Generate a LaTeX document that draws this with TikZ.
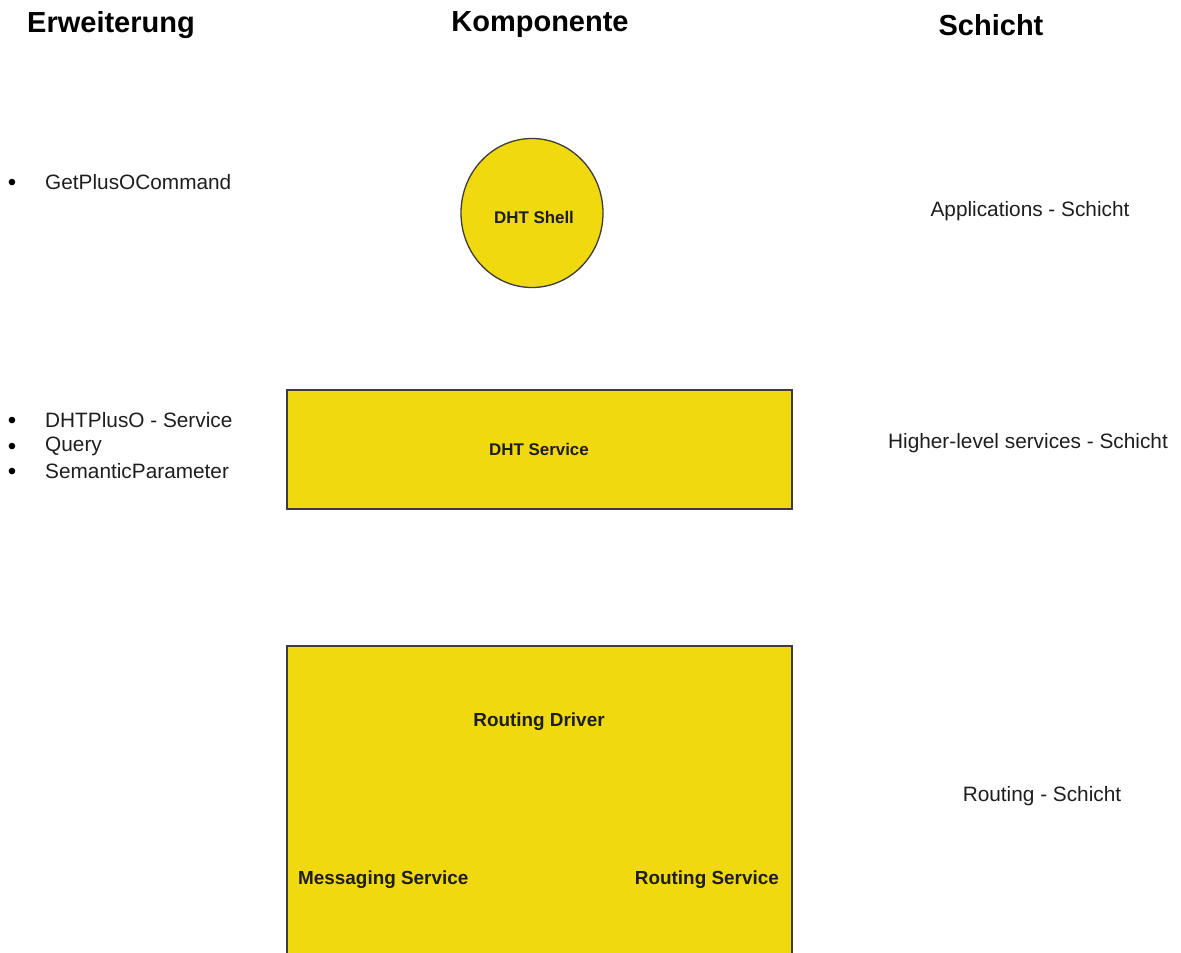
\documentclass[tikz,border=0pt]{standalone}
\usepackage{fontspec}
\setmainfont{Liberation Sans}
\usetikzlibrary{shapes.geometric}
\definecolor{compfill}{RGB}{240,217,14}
\definecolor{compline}{RGB}{60,60,60}
\definecolor{bodytext}{RGB}{30,30,30}
\tikzset{
  heading/.style={font=\fontsize{29}{33}\selectfont\bfseries, text=black, inner sep=0pt},
  plain/.style={font=\fontsize{20.8}{24}\selectfont, text=bodytext, inner sep=0pt},
  bulletmark/.style={font=\fontsize{24}{28}\selectfont, text=black, inner sep=0pt},
  complabel/.style={font=\fontsize{16.9}{20}\selectfont\bfseries, text=bodytext, inner sep=0pt},
  boxlabel/.style={font=\fontsize{18.9}{22}\selectfont\bfseries, text=bodytext, inner sep=0pt},
  comp/.style={fill=compfill, draw=compline, line width=1.3pt},
}
\begin{document}
\begin{tikzpicture}[x=1pt, y=-1pt]
  \useasboundingbox (0,0) rectangle (1181,953);
  \clip (0,0) rectangle (1181,953);

  % column headings
  \node[heading] (hext)  at (111,25) {Erweiterung};
  \node[heading] (hcomp) at (540,25) {Komponente};
  \node[heading] (hlay)  at (991,25) {Schicht};

  % extensions
  \node[bulletmark] (b1) at (12,185) {•};
  \node[plain, anchor=west] (e1) at (45,182) {GetPlusOCommand};
  \node[bulletmark] (b2) at (12,423) {•};
  \node[plain, anchor=west] (e2) at (45,420) {DHTPlusO - Service};
  \node[bulletmark] (b3) at (12,449) {•};
  \node[plain, anchor=west] (e3) at (45,446) {Query};
  \node[bulletmark] (b4) at (12,474) {•};
  \node[plain, anchor=west] (e4) at (45,471) {SemanticParameter};

  % components
  \node[comp, ellipse, minimum width=142pt, minimum height=149pt, inner sep=0pt] (shell) at (532,213) {};
  \node[complabel] (shelllbl) at (534,217) {DHT Shell};

  \draw[comp] (287,390) rectangle (792,509);
  \node[complabel] (servlbl) at (539,449) {DHT Service};

  \draw[comp] (287,646) rectangle (792,960);
  \node[boxlabel] (drvlbl) at (539,722) {Routing Driver};
  \node[boxlabel, anchor=west] (msglbl) at (298,880) {Messaging Service};
  \node[boxlabel, anchor=east] (rtslbl) at (779,880) {Routing Service};

  % layers
  \node[plain] (l1) at (1030,211) {Applications - Schicht};
  \node[plain] (l2) at (1028,443) {Higher-level services - Schicht};
  \node[plain] (l3) at (1042,796) {Routing - Schicht};
\end{tikzpicture}
\end{document}
